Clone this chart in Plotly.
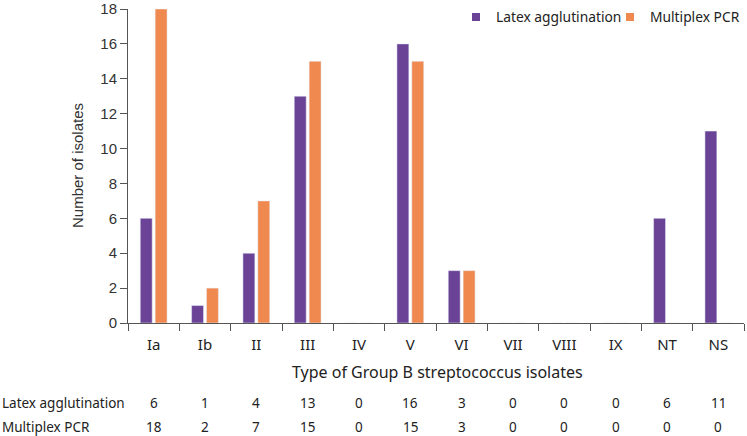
import plotly.graph_objects as go

categories = ["Ia", "Ib", "II", "III", "IV", "V", "VI", "VII", "VIII", "IX", "NT", "NS"]
latex = [6, 1, 4, 13, 0, 16, 3, 0, 0, 0, 6, 11]
pcr = [18, 2, 7, 15, 0, 15, 3, 0, 0, 0, 0, 0]
series_names = ["Latex agglutination", "Multiplex PCR"]
y_ticks = [0, 2, 4, 6, 8, 10, 12, 14, 16, 18]

W, H = 747, 436
ML, MR, MT, MB = 128, 3, 9, 113
PH = H - MT - MB
PW = W - ML - MR

PURPLE = "#6a4397"
ORANGE = "#f0894f"
FONT_X = "Noto Sans"
FONT_Y = "Liberation Sans"

fig = go.Figure()
fig.add_trace(go.Bar(x=categories, y=latex, name=series_names[0], marker_color=PURPLE,
                     showlegend=False, legendgroup="a"))
fig.add_trace(go.Bar(x=categories, y=pcr, name=series_names[1], marker_color=ORANGE,
                     showlegend=False, legendgroup="b"))
# legend entries with small square symbols, one legend box each
for nm, col, grp, lg in [(series_names[0], PURPLE, "a", "legend"), (series_names[1], ORANGE, "b", "legend2")]:
    fig.add_trace(go.Scatter(x=[None], y=[None], mode="markers", name=nm, legendgroup=grp,
                             legend=lg, marker=dict(symbol="square", size=8, color=col),
                             showlegend=True))


def ypix(py):
    return (H - MB - py) / PH


def xpix(px):
    return (px - ML) / PW


annotations = []
# x-axis title
annotations.append(dict(text="Type of Group B streptococcus isolates", xref="paper", yref="paper",
                        x=xpix(437), y=ypix(372), showarrow=False, xanchor="center", yanchor="middle",
                        font=dict(family=FONT_X, size=16, color="#222")))
# y-axis title
annotations.append(dict(text="Number of isolates", xref="paper", yref="paper",
                        x=xpix(77), y=ypix(166), showarrow=False, textangle=-90,
                        xanchor="center", yanchor="middle",
                        font=dict(family=FONT_Y, size=15, color="#333")))
# table
rows = [(series_names[0], latex, 403), (series_names[1], pcr, 427)]
for label, vals, py in rows:
    annotations.append(dict(text=label, xref="paper", yref="paper", x=xpix(0), y=ypix(py),
                            showarrow=False, xanchor="left", yanchor="middle",
                            font=dict(family=FONT_X, size=13.5, color="#222")))
    for c, v in zip(categories, vals):
        annotations.append(dict(text=str(v), xref="x", yref="paper", x=c, y=ypix(py),
                                showarrow=False, xanchor="center", yanchor="middle",
                                font=dict(family=FONT_X, size=13.5, color="#222")))

legend_common = dict(orientation="h", xref="container", yref="container", xanchor="left",
                     yanchor="middle", y=1 - 17 / H,
                     font=dict(family=FONT_X, size=13.8, color="#222"),
                     itemwidth=30, bgcolor="rgba(0,0,0,0)")

fig.update_layout(
    width=W, height=H,
    margin=dict(l=ML, r=MR, t=MT, b=MB, autoexpand=False),
    plot_bgcolor="white", paper_bgcolor="white",
    barmode="group", bargap=0.42, bargroupgap=0.2,
    showlegend=True,
    legend=dict(x=456 / W, **legend_common),
    legend2=dict(x=610 / W, **legend_common),
    annotations=annotations,
    xaxis=dict(type="category", showline=True, linecolor="#555", linewidth=1,
               ticks="outside", tickson="boundaries", ticklen=7, tickcolor="#555",
               ticklabelstandoff=8,
               tickfont=dict(family=FONT_X, size=15, color="#222"), showgrid=False),
    yaxis=dict(range=[0, 18], tickvals=y_ticks, showline=True, linecolor="#555", linewidth=1,
               ticks="outside", ticklen=7, tickcolor="#555", showgrid=False, zeroline=False,
               tickfont=dict(family=FONT_Y, size=15, color="#333")),
)

fig.write_html("out.html", config={"displayModeBar": False},
               post_script="document.body.style.margin='0px';document.body.style.overflow='hidden';")
